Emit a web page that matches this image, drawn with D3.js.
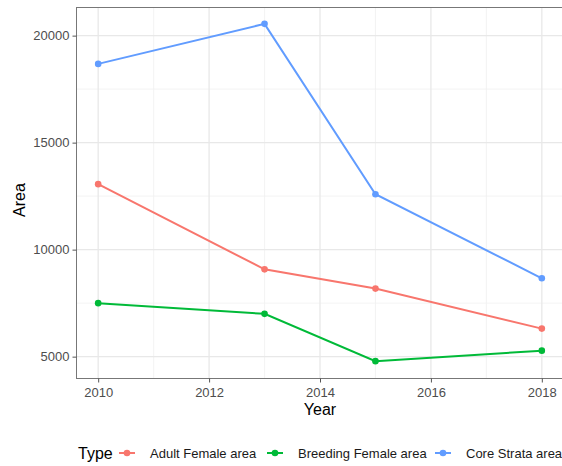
<!DOCTYPE html>
<html><head><meta charset="utf-8">
<script src="https://cdn.jsdelivr.net/npm/d3@7"></script>
<style>body{margin:0;background:#fff}svg{display:block;font-family:"Liberation Sans",Arial,sans-serif}</style>
</head><body><svg id="c" width="562" height="466"></svg>
<script>
const years = [2010, 2013, 2015, 2018];
const seriesNames = ["Adult Female area", "Breeding Female area", "Core Strata area"];
const adultFemale = [13060, 9080, 8180, 6310];
const breedingFemale = [7500, 7000, 4790, 5280];
const coreStrata = [18680, 20550, 12590, 8660];
const xTicks = [2010, 2012, 2014, 2016, 2018];
const yTicks = [5000, 10000, 15000, 20000];
const colors = ["#F8766D", "#00BA38", "#619CFF"];

const values = [adultFemale, breedingFemale, coreStrata];
const series = seriesNames.map((n, i) => ({name: n, color: colors[i], pts: years.map((y, j) => ({x: y, v: values[i][j]}))}));

const svg = d3.select("#c");
const L = 76, T = 7, B = 378;
const all = values.flat();
const ymin = d3.min(all), ymax = d3.max(all), yr = ymax - ymin;
const y = d3.scaleLinear().domain([ymin - 0.05*yr, ymax + 0.05*yr]).range([B, T]);
const x = d3.scaleLinear().domain([2009.6, 2018.4]).range([L, 564]);
const R = x.range()[1];

const g = svg.append("g");
const xMinor = [2011, 2013, 2015, 2017];
const yMinor = [7500, 12500, 17500];
g.selectAll(".xm").data(xMinor).join("line").attr("x1", d=>x(d)).attr("x2", d=>x(d)).attr("y1", T).attr("y2", B).attr("stroke", "#f0f0f0").attr("stroke-width", 0.8);
g.selectAll(".ym").data(yMinor).join("line").attr("x1", L).attr("x2", R).attr("y1", d=>y(d)).attr("y2", d=>y(d)).attr("stroke", "#f0f0f0").attr("stroke-width", 0.8);
g.selectAll(".xg").data(xTicks).join("line").attr("x1", d=>x(d)).attr("x2", d=>x(d)).attr("y1", T).attr("y2", B).attr("stroke", "#e8e8e8").attr("stroke-width", 1.3);
g.selectAll(".yg").data(yTicks).join("line").attr("x1", L).attr("x2", R).attr("y1", d=>y(d)).attr("y2", d=>y(d)).attr("stroke", "#e8e8e8").attr("stroke-width", 1.3);

const line = d3.line().x(d=>x(d.x)).y(d=>y(d.v));
series.forEach(s => {
  g.append("path").attr("d", line(s.pts)).attr("fill", "none").attr("stroke", s.color).attr("stroke-width", 2);
  g.selectAll(null).data(s.pts).join("circle").attr("cx", d=>x(d.x)).attr("cy", d=>y(d.v)).attr("r", 3.3).attr("fill", s.color);
});

g.append("rect").attr("x", L+0.5).attr("y", T+0.5).attr("width", R-L).attr("height", B-T).attr("fill", "none").attr("stroke", "#777").attr("stroke-width", 1);

const xa = svg.append("g").attr("transform", `translate(0,${B+0.5})`).call(d3.axisBottom(x).tickValues(xTicks).tickFormat(d3.format("d")).tickSize(4).tickPadding(3));
const ya = svg.append("g").attr("transform", `translate(${L+0.5},0)`).call(d3.axisLeft(y).tickValues(yTicks).tickFormat(d3.format("d")).tickSize(4).tickPadding(3));
[xa, ya].forEach(a => {
  a.select(".domain").remove();
  a.selectAll(".tick line").attr("stroke", "#555");
  a.selectAll(".tick text").attr("fill", "#4d4d4d").attr("font-size", 13).attr("font-family", "Liberation Sans, Arial, sans-serif");
});
xa.selectAll(".tick text").attr("dy", "0.9em");

svg.append("text").attr("x", x(2014)).attr("y", 415).attr("text-anchor", "middle").attr("font-size", 16).attr("fill", "#000").text("Year");
svg.append("text").attr("transform", "translate(25,200) rotate(-90)").attr("text-anchor", "middle").attr("font-size", 16).attr("fill", "#000").text("Area");

const ly = 453;
const lg = svg.append("g");
lg.append("text").attr("x", 78).attr("y", ly + 5.5).attr("font-size", 16).attr("fill", "#000").text("Type");
const keyX = [127, 275, 443];
series.forEach((s, i) => {
  const kx = keyX[i];
  lg.append("line").attr("x1", kx-8).attr("x2", kx+8).attr("y1", ly).attr("y2", ly).attr("stroke", s.color).attr("stroke-width", 2);
  lg.append("circle").attr("cx", kx).attr("cy", ly).attr("r", 3.3).attr("fill", s.color);
  lg.append("text").attr("x", kx + 23).attr("y", ly + 4.5).attr("font-size", 13).attr("fill", "#1a1a1a").text(s.name);
});
</script></body></html>
